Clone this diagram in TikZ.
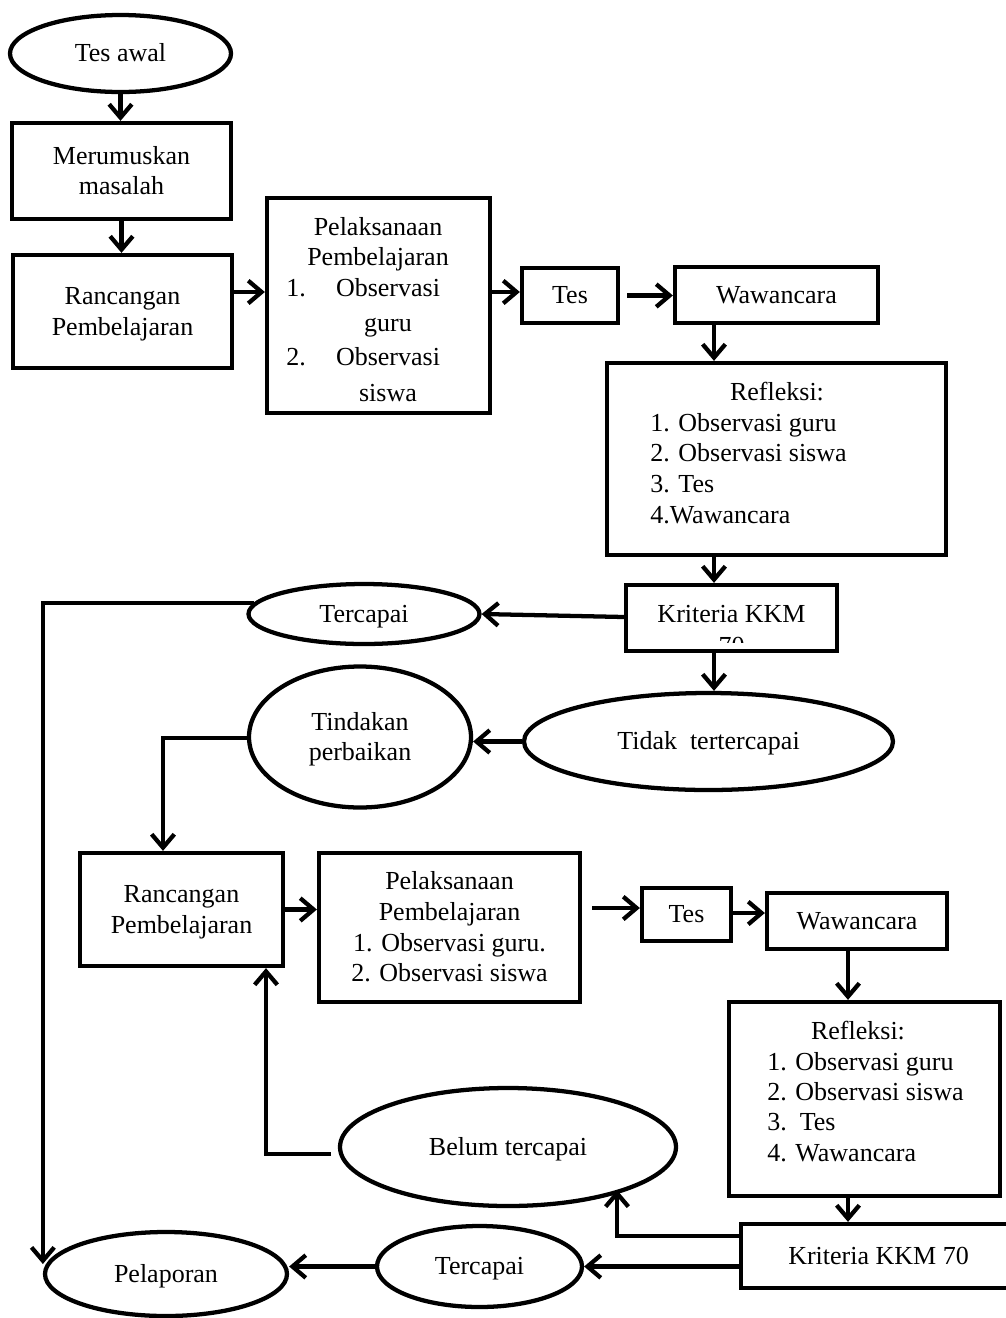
\documentclass[tikz,border=0pt]{standalone}
\usepackage{fontspec}
\setmainfont{Liberation Serif}
\usetikzlibrary{shapes.geometric,arrows.meta}
\begin{document}
\begin{tikzpicture}[x=0.75pt,y=-0.75pt,
  every node/.style={font=\fontsize{19.5}{23}\selectfont},
  one/.style={text height=13.6pt, text depth=1pt},
  two/.style={text height=36.6pt, text depth=1pt},
  four/.style={text height=82.6pt, text depth=1pt},
  sz/.style 2 args={minimum width=#1*0.75pt, minimum height=#2*0.75pt},
  box/.style={draw, line width=3.2pt, rectangle, inner sep=0pt, align=center},
  oval/.style={draw, line width=3.2pt, ellipse, inner sep=0pt, align=center},
  txt/.style={inner sep=0pt, one},
  arr/.style={line width=3.2pt, -{Straight Barb[length=10pt,width=17pt]}}]
\useasboundingbox (0,0) rectangle (1006,1318);
\fill[white] (0,0) rectangle (1006,1318);

% ---- upper cycle ----
\node[oval, one, sz={221}{77}] (tesawal) at (120.5,53.5) {Tes awal};
\node[box, two, sz={219}{96}] (meru) at (121.5,171) {Merumuskan\\masalah};
\node[box, two, sz={219}{113}] (ranc) at (122.5,311.5) {Rancangan\\Pembelajaran};

\node[box, sz={223}{215}] (pel1) at (378.5,305.5) {};
\node[txt] (p1a) at (378,227) {Pelaksanaan};
\node[txt] (p1b) at (378,257) {Pembelajaran};
\node[txt] (p1c) at (296,288) {1.};
\node[txt] (p1d) at (388,288) {Observasi};
\node[txt] (p1e) at (388,323) {guru};
\node[txt] (p1f) at (296,357) {2.};
\node[txt] (p1g) at (388,357) {Observasi};
\node[txt] (p1h) at (388,393) {siswa};

\node[box, one, sz={96}{55}] (tes1) at (570,295.5) {Tes};
\node[box, one, sz={203}{56}] (waw1) at (776.5,295) {Wawancara};

\node[box, sz={339}{192}] (ref1) at (776.5,459) {};
\node[txt] (r1a) at (777,392) {Refleksi:};
\node[txt, anchor=west] (r1b) at (650,423) {1. Observasi guru};
\node[txt, anchor=west] (r1c) at (650,453) {2. Observasi siswa};
\node[txt, anchor=west] (r1d) at (650,484) {3. Tes};
\node[txt, anchor=west] (r1e) at (650,515) {4.Wawancara};

\begin{scope}
  \clip (628,587) rectangle (835,642);
  \node[txt] (k70) at (731.5,645.6) {70};
\end{scope}
\node[box, sz={211}{66}] (krit1) at (731.5,618) {};
\node[txt] (kt1) at (731.5,614) {Kriteria KKM};

\node[oval, one, sz={231}{60}] (terc1) at (364,614) {Tercapai};
\node[oval, one, sz={369}{97}] (tidak) at (708.5,741.5) {Tidak\ \ tertercapai};
\node[oval, two, sz={222}{141}] (tind) at (360,737) {Tindakan\\perbaikan};

% ---- second cycle ----
\node[box, two, sz={203}{113}] (rk2) at (181.5,909.5) {Rancangan\\Pembelajaran};
\node[box, four, sz={261}{149}] (pel2) at (449.5,927.5) {Pelaksanaan\\Pembelajaran\\1. Observasi guru.\\2. Observasi siswa};
\node[box, one, sz={89}{53}] (tes2) at (686.5,914.5) {Tes};
\node[box, one, sz={180}{56}] (waw2) at (857,921) {Wawancara};

\node[box, sz={271}{194}] (ref2) at (864.5,1099) {};
\node[txt] (r2a) at (858,1031) {Refleksi:};
\node[txt, anchor=west] (r2b) at (767,1062) {1. Observasi guru};
\node[txt, anchor=west] (r2c) at (767,1092) {2. Observasi siswa};
\node[txt, anchor=west] (r2d) at (767,1122) {3.\ \ Tes};
\node[txt, anchor=west] (r2e) at (767,1153) {4. Wawancara};

\node[box, one, sz={275}{64}] (krit2) at (878.5,1256) {Kriteria KKM 70};
\node[oval, one, sz={336}{118}] (belum) at (508,1147) {Belum tercapai};
\node[oval, one, sz={205}{81}] (terc2) at (479.5,1266.5) {Tercapai};
\node[oval, one, sz={242}{84}] (pelap) at (166,1274) {Pelaporan};

% ---- connectors ----
\draw[arr] (tesawal.south) -- (tesawal.south |- meru.north);
\draw[arr] (meru.south) -- (meru.south |- ranc.north);
\draw[arr] (ranc.east |- 0,292) -- (pel1.west |- 0,292);
\draw[arr] (pel1.east |- 0,292) -- (tes1.west |- 0,292);
\draw[arr, shorten <=5.25pt] (tes1.east) -- (tes1.east -| waw1.west);
\draw[arr] (waw1.south -| 714,0) -- (ref1.north -| 714,0);
\draw[arr] (ref1.south -| 714,0) -- (krit1.north -| 714,0);
\draw[arr] (krit1.west |- 0,617) -- (terc1.east);
\draw[arr, shorten <=-6pt] (terc1.west |- 0,603) -| ([yshift=7.5pt]pelap.west);
\draw[arr] (krit1.south -| 714,0) -- (tidak.north -| 714,0);
\draw[arr] (tidak.west) -- (tidak.west -| tind.east);
\draw[arr] (tind.west |- 0,738) -| (rk2.north -| 163,0);

\draw[arr] (rk2.east) -- (pel2.west |- rk2.east);
\draw[arr, shorten <=7.5pt] (pel2.east |- 0,908) -- (tes2.west |- 0,908);
\draw[arr] (tes2.east |- 0,913) -- (waw2.west |- 0,913);
\draw[arr] (waw2.south -| 848,0) -- (ref2.north -| 848,0);
\draw[arr] (ref2.south -| 848,0) -- (krit2.north -| 848,0);
\coordinate (bt) at (617,1190);
\draw[arr] (krit2.west |- 0,1236) -| (bt);
\draw[arr, shorten <=5pt] (belum.west |- 0,1154) -| (rk2.south -| 266,0);
\draw[arr] (krit2.west |- terc2.east) -- (terc2.east);
\draw[arr] (terc2.west) -- (pelap.east |- terc2.west);
\end{tikzpicture}
\end{document}
